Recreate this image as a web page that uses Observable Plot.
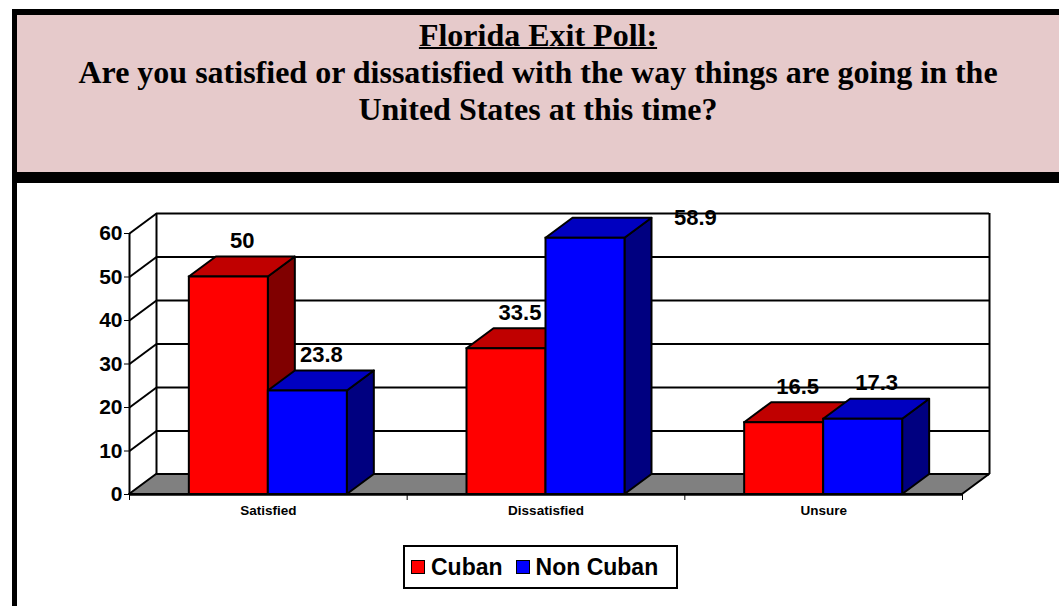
<!DOCTYPE html>
<html>
<head>
<meta charset="utf-8">
<script src="https://cdn.jsdelivr.net/npm/d3@7"></script>
<script src="https://cdn.jsdelivr.net/npm/@observablehq/plot@0.6"></script>
<style>
  html, body { margin: 0; padding: 0; background: #fff; }
  body { width: 1059px; height: 606px; position: relative; overflow: hidden; font-family: Arial, "Liberation Sans", sans-serif; }
  #bl { position: absolute; left: 12px; top: 9px; width: 5px; bottom: 0; background: #000; }
  #bt { position: absolute; left: 12px; top: 9px; right: 0; height: 6px; background: #000; }
  #title { position: absolute; left: 17px; top: 15px; right: 0; height: 157px; background: #E6CACB;
           box-sizing: border-box; padding-top: 2px; text-align: center;
           font-family: "Liberation Serif", "Times New Roman", serif; font-weight: bold; font-size: 32px; line-height: 37px; color: #000; }
  #title u { text-decoration-thickness: 2px; }
  #band { position: absolute; left: 12px; top: 172px; right: 0; height: 11px; background: #000; }
  #chart { position: absolute; left: 0; top: 183px; }
  #legend { position: absolute; left: 403px; top: 545px; width: 275px; height: 44px; box-sizing: border-box;
            border: 2px solid #000; display: flex; align-items: center; padding-left: 6px;
            font-family: Arial, "Liberation Sans", sans-serif; font-weight: bold; font-size: 23px; color: #000; }
  .sw { width: 14px; height: 14px; border: 1.5px solid #000; box-sizing: border-box; margin-right: 6px; }
  .item { display: flex; align-items: center; margin-right: 13px; }
</style>
</head>
<body>
<div id="bl"></div>
<div id="bt"></div>
<div id="title"><u>Florida Exit Poll:</u><br>Are you satisfied or dissatisfied with the way things are going in the<br>United States at this time?</div>
<div id="band"></div>
<div id="chart"></div>
<div id="legend"></div>
<script>
// ---- data ----
const categories = ["Satisfied", "Dissatisfied", "Unsure"];
const seriesNames = ["Cuban", "Non Cuban"];
const cubanValues = [50, 33.5, 16.5];
const nonCubanValues = [23.8, 58.9, 17.3];
const yTicks = [0, 10, 20, 30, 40, 50, 60];

// ---- styles ----
const frontColors = ["#FF0000", "#0000FF"];
const topColors = ["#C00000", "#0000C0"];
const sideColors = ["#800000", "#000080"];

const W = 1059, H = 345;
const mL = 129, mR = 97, mT = 50, mB = 34;
const yMax = 60, nCat = categories.length;
const pxPerX = (W - mL - mR) / nCat;
const pxPerY = (H - mT - mB) / yMax;
const xd = 27 / pxPerX;   // depth offset in data units
const yd = 20 / pxPerY;
const bw = 0.2845;        // bar width (fraction of band)
const pad = (1 - 2 * bw) / 2;

const values = [cubanValues, nonCubanValues];
const bars = [];
categories.forEach((c, i) => {
  seriesNames.forEach((s, j) => {
    const x1 = i + pad + j * bw;
    bars.push({id: `${i}-${j}`, cat: c, s: j, v: values[j][i], x1, x2: x1 + bw});
  });
});

const sides = bars.flatMap(b => [
  {id: b.id, s: b.s, x: b.x2, y1: 0, y2: b.v},
  {id: b.id, s: b.s, x: b.x2 + xd, y1: yd, y2: b.v + yd}
]);
const tops = bars.flatMap(b => [
  {id: b.id, s: b.s, y: b.v, x1: b.x1, x2: b.x2},
  {id: b.id, s: b.s, y: b.v + yd, x1: b.x1 + xd, x2: b.x2 + xd}
]);
const floor = [
  {y: 0, x1: 0, x2: nCat},
  {y: yd, x1: xd, x2: nCat + xd}
];

const inside = bars.filter(b => b.v + yd <= yMax);
const outside = bars.filter(b => b.v + yd > yMax);

const chart = Plot.plot({
  width: W, height: H,
  marginLeft: mL, marginRight: mR, marginTop: mT, marginBottom: mB,
  style: {fontFamily: "Arial, 'Liberation Sans', sans-serif", fontSize: "21px", fontWeight: "bold", background: "transparent", overflow: "visible", color: "#000"},
  x: {domain: [0, nCat], ticks: d3.range(nCat + 1), tickFormat: () => "", tickSize: 6, label: null},
  y: {domain: [0, yMax], ticks: yTicks, tickSize: 5, tickPadding: 2, label: null},
  color: {type: "identity"},
  marks: [
    Plot.ruleY(yTicks, {y: d => d + yd, x1: xd, x2: nCat + xd, stroke: "#000", strokeWidth: 2}),
    Plot.link(yTicks, {x1: 0, y1: d => d, x2: xd, y2: d => d + yd, stroke: "#000", strokeWidth: 2}),
    Plot.ruleX([xd, nCat + xd], {x: d => d, y1: yd, y2: yMax + yd, stroke: "#000", strokeWidth: 2}),
    Plot.areaX(floor, {y: "y", x1: "x1", x2: "x2", fill: "#808080", stroke: "#000", strokeWidth: 2}),
    Plot.ruleX([0], {y1: 0, y2: yMax, stroke: "#000", strokeWidth: 2}),
    Plot.ruleY([0], {x1: 0, x2: nCat, stroke: "#000", strokeWidth: 2.5}),
    Plot.areaY(sides, {x: "x", y1: "y1", y2: "y2", z: "id", fill: d => sideColors[d.s], stroke: "#000", strokeWidth: 2, strokeLinejoin: "round"}),
    Plot.areaX(tops, {y: "y", x1: "x1", x2: "x2", z: "id", fill: d => topColors[d.s], stroke: "#000", strokeWidth: 2, strokeLinejoin: "round"}),
    Plot.rect(bars, {x1: "x1", x2: "x2", y1: 0, y2: "v", fill: d => frontColors[d.s], stroke: "#000", strokeWidth: 2}),
    Plot.text(inside, {x: d => (d.x1 + d.x2) / 2 + xd / 2, y: d => d.v + yd, text: d => String(d.v), dy: -16, fontSize: 22, fontWeight: "bold", fill: "#000"}),
    Plot.text(outside, {x: d => d.x2 + xd, y: d => d.v + yd, text: d => String(d.v), dx: 22, textAnchor: "start", fontSize: 22, fontWeight: "bold", fill: "#000"}),
    Plot.text(categories, {x: (d, i) => i + 0.5, y: 0, text: d => d, dy: 16, fontSize: 13.5, fontWeight: "bold", fill: "#000"})
  ]
});
document.getElementById("chart").appendChild(chart);

const legend = document.getElementById("legend");
seriesNames.forEach((s, j) => {
  const item = document.createElement("div");
  item.className = "item";
  const sw = document.createElement("div");
  sw.className = "sw";
  sw.style.background = frontColors[j];
  const t = document.createElement("span");
  t.textContent = s;
  item.appendChild(sw);
  item.appendChild(t);
  legend.appendChild(item);
});
</script>
</body>
</html>
